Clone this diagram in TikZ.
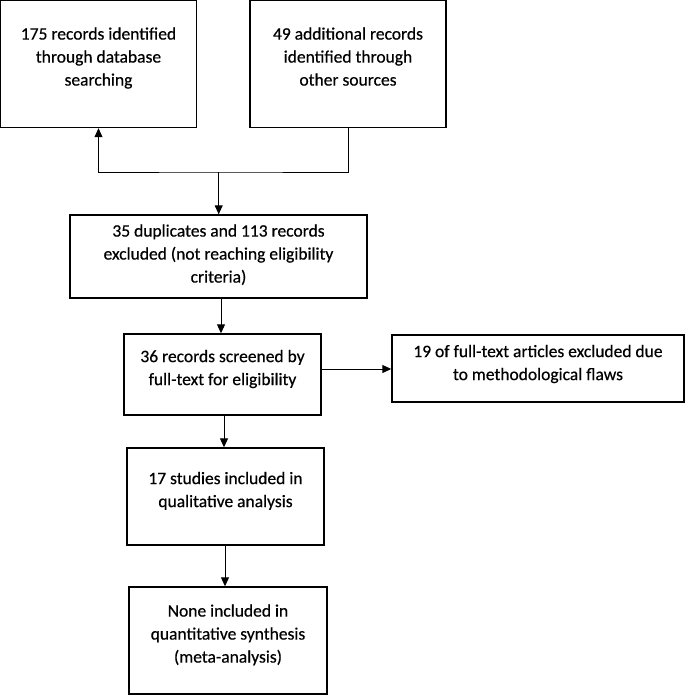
\documentclass[tikz,border=0pt]{standalone}
\usepackage{fontspec}
\setmainfont{Carlito}[FakeBold=0.5]
\usetikzlibrary{arrows.meta}
\newcommand{\boxtext}[2]{\raisebox{#1}[\height][\depth]{\begin{tabular}{@{}c@{}}#2\end{tabular}}}
\begin{document}
\begin{tikzpicture}[x=1pt,y=-1pt,
  fbox/.style={draw, line width=1.4pt, rectangle, inner sep=0pt, font=\fontsize{17.5pt}{23pt}\selectfont},
  arr/.style={line width=0.9pt, -{Triangle[width=8pt,length=9pt]}}]
\useasboundingbox (0,0) rectangle (685,696);
\node[fbox, minimum width=195.5pt, minimum height=127pt] (b1) at (98.5,64) {\boxtext{6pt}{175 records identified\\through database\\searching}};
\node[fbox, minimum width=196pt, minimum height=127pt] (b2) at (348,64) {\boxtext{6pt}{49 additional records\\identified through\\other sources}};
\node[fbox, minimum width=297pt, minimum height=83pt] (b3) at (218.5,256.5) {\boxtext{1.5pt}{35 duplicates and 113 records\\excluded (not reaching eligibility\\criteria)}};
\node[fbox, minimum width=197pt, minimum height=81pt] (b4) at (222.5,374.5) {\boxtext{5.5pt}{36 records screened by\\full-text for eligibility}};
\node[fbox, minimum width=292pt, minimum height=67pt] (b5) at (538,368.5) {\boxtext{4.5pt}{19 of full-text articles excluded due\\to methodological flaws}};
\node[fbox, minimum width=197pt, minimum height=97pt] (b6) at (225.5,496.5) {\boxtext{5.5pt}{17 studies included in\\qualitative analysis}};
\node[fbox, minimum width=198pt, minimum height=107pt] (b7) at (228,640.5) {\boxtext{5.5pt}{None included in\\quantitative synthesis\\(meta-analysis)}};
\coordinate (j) at (218.7,172);
\draw[arr] (b2.south) |- (j) -| (b1.south);
\draw[arr] (j) -- (j |- b3.north);
\draw[arr] ([xshift=2.5pt]b3.south) -- ([xshift=-1.5pt]b4.north);
\draw[arr] ([yshift=5.5pt]b4.east) -- ([yshift=5.5pt]b4.east -| b5.west);
\draw[arr] ([xshift=1.5pt]b4.south) -- ([xshift=-1.5pt]b6.north);
\draw[arr] ([xshift=-0.5pt]b6.south) -- ([xshift=-3pt]b7.north);
\end{tikzpicture}
\end{document}
